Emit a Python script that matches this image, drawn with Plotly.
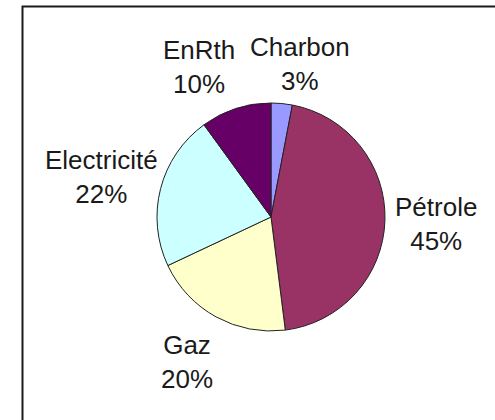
import math
import plotly.graph_objects as go

W, H = 495, 420

# Data
categories = ["Charbon", "Pétrole", "Gaz", "Electricité", "EnRth"]
values = [3, 45, 20, 22, 10]
colors = ["#9999FF", "#993366", "#FFFFCC", "#CCFFFF", "#660066"]
title_text = "Consommation par énergie (2005)"

# Pie placement (pixels)
cx, cy, r = 271, 217, 114
label_dist = 165
# small label nudges (pixels) to mimic the original label layout
label_nudge = {"Charbon": (13, 11), "Pétrole": (0, 2), "Gaz": (-5, 0),
               "Electricité": (-10, 1), "EnRth": (-21, 7)}
FONT = "Liberation Sans, Arial, sans-serif"

fig = go.Figure(go.Pie(
    labels=categories,
    values=values,
    sort=False,
    direction="clockwise",
    rotation=0,
    marker=dict(colors=colors, line=dict(color="#222222", width=1)),
    textinfo="none",
    domain=dict(x=[(cx - r) / W, (cx + r) / W], y=[1 - (cy + r) / H, 1 - (cy - r) / H]),
    showlegend=False,
    hoverinfo="label+percent",
))

# Outside labels placed at the middle angle of each slice
total = sum(values)
cum = 0
for name, v in zip(categories, values):
    mid = (cum + v / 2) / total * 2 * math.pi
    cum += v
    dx, dy = label_nudge.get(name, (0, 0))
    px = cx + label_dist * math.sin(mid) + dx
    py = cy - label_dist * math.cos(mid) + dy
    pct = round(v / total * 100)
    fig.add_annotation(text=f"{name}<br>{pct}%", xref="paper", yref="paper",
                       x=px / W, y=1 - py / H, xanchor="center", yanchor="middle",
                       showarrow=False, align="center",
                       font=dict(family=FONT, size=26, color="#1a1a1a"))

# Frame of the chart (extends beyond the visible crop)
fig.add_shape(type="rect", xref="paper", yref="paper",
              x0=22.5 / W, x1=(W + 20) / W, y0=-20 / H, y1=1 - 6.5 / H,
              line=dict(color="#1a1a1a", width=2), fillcolor="rgba(0,0,0,0)")

# Title, mostly cut off at the top
fig.add_annotation(text="<b>" + title_text + "</b>", xref="paper", yref="paper",
                   x=382 / W, y=1 - 2.5 / H, xanchor="right", yanchor="bottom",
                   showarrow=False,
                   font=dict(family=FONT, size=28, color="#000000"))

fig.update_layout(width=W, height=H, margin=dict(l=0, r=0, t=0, b=0),
                  paper_bgcolor="white", plot_bgcolor="white")

fig.write_html("out.html", config={"displayModeBar": False},
               post_script="document.body.style.margin='0';")
